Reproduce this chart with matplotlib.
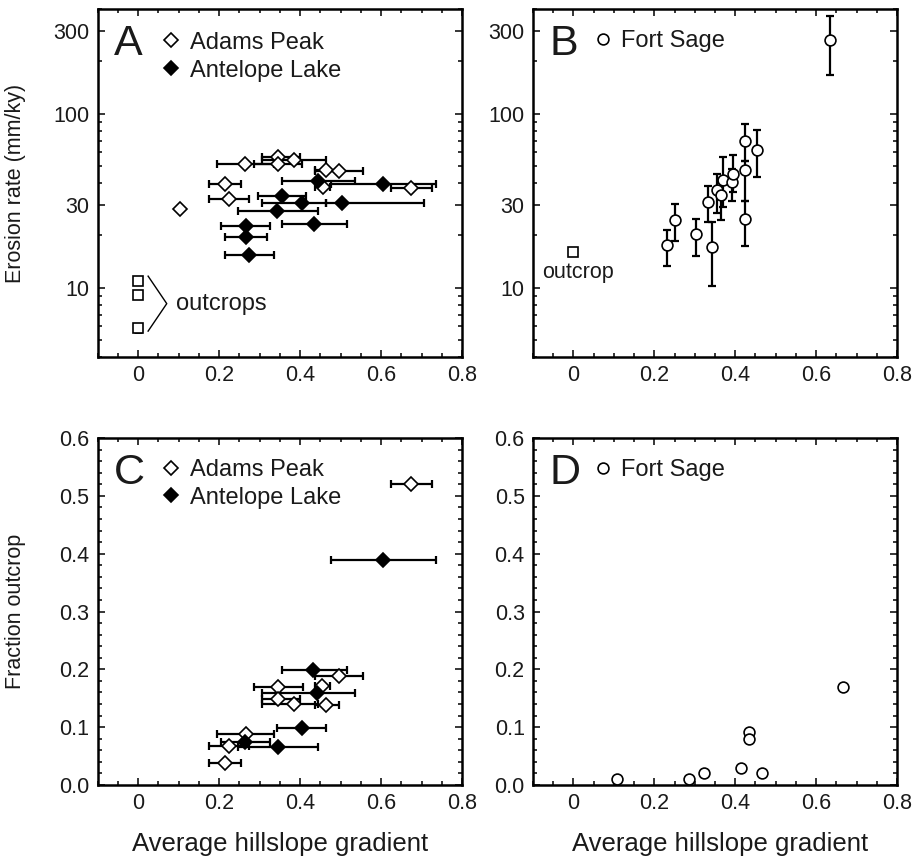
import matplotlib
matplotlib.use("Agg")
import matplotlib.pyplot as plt
import numpy as np
from matplotlib.lines import Line2D
from matplotlib.ticker import MultipleLocator, LogLocator, NullFormatter, FixedLocator

plt.rcParams['font.family'] = ['Liberation Sans', 'DejaVu Sans']

# ---------------- data ----------------
# Panel A: erosion rate vs gradient
adams_grad = [0.264, 0.345, 0.345, 0.385, 0.464, 0.497, 0.215, 0.456, 0.674, 0.225, 0.104]
adams_grad_lo = [0.196, 0.305, 0.287, 0.305, 0.437, 0.437, 0.175, 0.437, 0.624, 0.175, np.nan]
adams_grad_hi = [0.337, 0.400, 0.404, 0.464, 0.497, 0.556, 0.254, 0.475, 0.725, 0.274, np.nan]
adams_erosion = [51.4, 56.1, 51.4, 54.2, 47.5, 46.6, 39.4, 37.7, 37.4, 32.3, 28.2]

antelope_grad = [0.444, 0.606, 0.355, 0.404, 0.504, 0.342, 0.435, 0.266, 0.266, 0.274]
antelope_grad_lo = [0.355, 0.477, 0.296, 0.305, 0.464, 0.246, 0.355, 0.205, 0.215, 0.215]
antelope_grad_hi = [0.536, 0.735, 0.414, 0.464, 0.707, 0.444, 0.516, 0.326, 0.318, 0.337]
antelope_erosion = [41.2, 39.4, 33.8, 30.5, 30.5, 27.5, 23.4, 22.5, 19.5, 15.5]

outcrops_A_grad = [0.0, 0.0, 0.0]
outcrops_A_erosion = [11.0, 9.1, 5.9]
outcrops_A_err = [0.4, 0.0, 0.3]

# Panel B: Fort Sage erosion rate
fort_grad = [0.634, 0.232, 0.252, 0.303, 0.333, 0.342, 0.354, 0.365, 0.371,
             0.393, 0.395, 0.423, 0.423, 0.423, 0.453]
fort_erosion = [266, 17.5, 24.4, 20.3, 31.1, 17.1, 36.3, 34.2, 41.4,
                40.5, 44.8, 69.7, 47.2, 24.7, 62.1]
fort_erosion_hi = [367, 21.6, 30.1, 24.9, 38.2, 23.8, 44.8, 40.0, 56.4,
                   48.0, 57.6, 86.9, 53.5, 31.5, 80.2]
fort_erosion_lo = [166, 13.4, 18.5, 15.3, 23.8, 10.2, 26.9, 24.6, 29.0,
                   31.5, 35.5, 53.5, 31.5, 17.3, 43.3]
outcrop_B_grad = [0.0]
outcrop_B_erosion = [16.0]

# Panel C: fraction outcrop
adamsC_grad = [0.497, 0.345, 0.454, 0.345, 0.386, 0.464, 0.266, 0.225, 0.215, 0.674]
adamsC_lo = [0.437, 0.286, 0.437, 0.305, 0.305, 0.437, 0.194, 0.176, 0.176, 0.624]
adamsC_hi = [0.555, 0.407, 0.475, 0.400, 0.445, 0.497, 0.337, 0.274, 0.254, 0.725]
adamsC_frac = [0.189, 0.170, 0.171, 0.148, 0.140, 0.138, 0.089, 0.067, 0.0375, 0.520]

antelopeC_grad = [0.433, 0.441, 0.404, 0.265, 0.345, 0.606]
antelopeC_lo = [0.355, 0.307, 0.344, 0.204, 0.246, 0.477]
antelopeC_hi = [0.515, 0.536, 0.464, 0.326, 0.444, 0.735]
antelopeC_frac = [0.199, 0.159, 0.098, 0.075, 0.066, 0.389]

# Panel D: Fort Sage fraction outcrop
fortD_grad = [0.108, 0.285, 0.324, 0.414, 0.435, 0.435, 0.466, 0.666]
fortD_frac = [0.010, 0.010, 0.020, 0.030, 0.091, 0.080, 0.020, 0.170]

xticks = [0, 0.2, 0.4, 0.6, 0.8]
xticklabels = ['0', '0.2', '0.4', '0.6', '0.8']
log_ticks = [10, 30, 100, 300]
frac_ticks = [0.0, 0.1, 0.2, 0.3, 0.4, 0.5, 0.6]

# ---------------- style ----------------
TICK_FS = 15.5
LEG_FS = 17
YLAB_FS = 15.5
XLAB_FS = 18.5
LET_FS = 31
MS_D = 7.6
MS_O = 7.8
MEW = 1.2
ELW = 1.6
TXT = '#1a1a1a'

W, H = 913, 863
fig = plt.figure(figsize=(W / 100, H / 100), dpi=100)

def make_ax(l, t, r, b):
    return fig.add_axes([l / W, 1 - b / H, (r - l) / W, (b - t) / H])

axA = make_ax(97.5, 9, 462, 357)
axB = make_ax(533, 9, 897, 357)
axC = make_ax(97.5, 438, 462, 785)
axD = make_ax(533, 438, 897, 785)

for ax in (axA, axB, axC, axD):
    ax.set_xlim(-0.1, 0.8)
    ax.xaxis.set_major_locator(FixedLocator(xticks))
    ax.set_xticklabels(xticklabels)
    ax.xaxis.set_minor_locator(MultipleLocator(0.05))
    ax.tick_params(which='both', direction='in', top=True, right=True,
                   labelsize=TICK_FS, width=1.1, pad=6, labelcolor=TXT)
    ax.tick_params(which='major', length=5)
    ax.tick_params(which='minor', length=3)
    for s in ax.spines.values():
        s.set_linewidth(1.8)

for ax in (axA, axB):
    ax.set_yscale('log')
    ax.set_ylim(4, 400)
    ax.yaxis.set_major_locator(FixedLocator(log_ticks))
    ax.set_yticklabels([str(t) for t in log_ticks])
    ax.yaxis.set_minor_locator(LogLocator(base=10, subs=np.arange(2, 10)))
    ax.yaxis.set_minor_formatter(NullFormatter())

for ax in (axC, axD):
    ax.set_ylim(0, 0.6)
    ax.yaxis.set_major_locator(FixedLocator(frac_ticks))
    ax.set_yticklabels([f'{t:.1f}' for t in frac_ticks])
    ax.yaxis.set_minor_locator(MultipleLocator(0.02))

def xerr_from(x, lo, hi):
    x = np.asarray(x, float)
    lo = np.asarray(lo, float)
    hi = np.asarray(hi, float)
    return np.vstack([x - lo, hi - x])

eb_kw = dict(fmt='none', ecolor='black', elinewidth=ELW, capsize=3.0, capthick=ELW, zorder=2)
open_D = dict(ls='none', marker='D', ms=MS_D, mfc='white', mec='black', mew=MEW, zorder=4)
fill_D = dict(ls='none', marker='D', ms=MS_D, mfc='black', mec='black', mew=MEW, zorder=4)
open_O = dict(ls='none', marker='o', ms=MS_O, mfc='white', mec='black', mew=MEW, zorder=4)
open_S = dict(ls='none', marker='s', ms=6.8, mfc='white', mec='black', mew=MEW, zorder=4)

# ---------------- Panel A ----------------
axA.errorbar(adams_grad, adams_erosion, xerr=xerr_from(adams_grad, adams_grad_lo, adams_grad_hi), **eb_kw)
axA.errorbar(antelope_grad, antelope_erosion, xerr=xerr_from(antelope_grad, antelope_grad_lo, antelope_grad_hi), **eb_kw)
axA.plot(adams_grad, adams_erosion, **open_D)
axA.plot(antelope_grad, antelope_erosion, **fill_D)
axA.errorbar(outcrops_A_grad, outcrops_A_erosion, yerr=outcrops_A_err, fmt='none',
             ecolor='black', elinewidth=1.5, capsize=3.2, capthick=2.0, zorder=3)
axA.plot(outcrops_A_grad, outcrops_A_erosion, **open_S)
# bracket to "outcrops"
top_y = max(outcrops_A_erosion) * 1.06
bot_y = min(outcrops_A_erosion) * 0.955
tip_y = np.sqrt(top_y * bot_y)
bx0 = outcrops_A_grad[0] + 0.025
bx1 = outcrops_A_grad[0] + 0.071
axA.plot([bx0, bx1, bx0], [top_y, tip_y, bot_y], color='black', lw=1.0)
axA.text(bx1 + 0.022, tip_y, 'outcrops', fontsize=LEG_FS, va='center', ha='left', color=TXT)

# ---------------- Panel B ----------------
fe = np.asarray(fort_erosion, float)
yerrB = np.vstack([fe - np.asarray(fort_erosion_lo), np.asarray(fort_erosion_hi) - fe])
axB.errorbar(fort_grad, fort_erosion, yerr=yerrB, fmt='none', ecolor='black',
             elinewidth=ELW, capsize=3.0, capthick=ELW, zorder=2)
axB.plot(fort_grad, fort_erosion, **open_O)
axB.plot(outcrop_B_grad, outcrop_B_erosion, **open_S)
axB.annotate('outcrop', (outcrop_B_grad[0], outcrop_B_erosion[0]), xytext=(3, -7),
             textcoords='offset points', ha='center', va='top', fontsize=LEG_FS - 1.5, color=TXT)

# ---------------- Panel C ----------------
axC.errorbar(adamsC_grad, adamsC_frac, xerr=xerr_from(adamsC_grad, adamsC_lo, adamsC_hi), **eb_kw)
axC.errorbar(antelopeC_grad, antelopeC_frac, xerr=xerr_from(antelopeC_grad, antelopeC_lo, antelopeC_hi), **eb_kw)
axC.plot(adamsC_grad, adamsC_frac, **open_D)
axC.plot(antelopeC_grad, antelopeC_frac, **fill_D)

# ---------------- Panel D ----------------
axD.plot(fortD_grad, fortD_frac, clip_on=False, **open_O)

# ---------------- letters & legends ----------------
for ax, letter in ((axA, 'A'), (axB, 'B'), (axC, 'C'), (axD, 'D')):
    ax.text(0.045, 0.868, letter, transform=ax.transAxes, fontsize=LET_FS,
            ha='left', va='baseline', color=TXT)

h_adams = Line2D([], [], **{k: v for k, v in open_D.items() if k != 'zorder'})
h_ante = Line2D([], [], **{k: v for k, v in fill_D.items() if k != 'zorder'})
h_fort = Line2D([], [], **{k: v for k, v in open_O.items() if k != 'zorder'})

leg_kw = dict(loc='upper left', frameon=False, fontsize=LEG_FS, borderpad=0,
              handlelength=0.8, handletextpad=0.4, labelspacing=0.25, borderaxespad=0,
              labelcolor=TXT)
axA.legend(handles=[h_adams, h_ante], labels=['Adams Peak', 'Antelope Lake'],
           bbox_to_anchor=(0.175, 0.935), **leg_kw)
axC.legend(handles=[h_adams, h_ante], labels=['Adams Peak', 'Antelope Lake'],
           bbox_to_anchor=(0.175, 0.94), **leg_kw)
axB.legend(handles=[h_fort], labels=['Fort Sage'], bbox_to_anchor=(0.165, 0.94), **leg_kw)
axD.legend(handles=[h_fort], labels=['Fort Sage'], bbox_to_anchor=(0.165, 0.94), **leg_kw)

# ---------------- axis labels ----------------
axA.set_ylabel('Erosion rate (mm/ky)', fontsize=YLAB_FS, color=TXT)
axA.yaxis.set_label_coords(-0.195, 0.5)
axC.set_ylabel('Fraction outcrop', fontsize=YLAB_FS, color=TXT)
axC.yaxis.set_label_coords(-0.195, 0.5)
axC.set_xlabel('Average hillslope gradient', fontsize=XLAB_FS, color=TXT)
axC.xaxis.set_label_coords(0.5, -0.135)
axD.set_xlabel('Average hillslope gradient', fontsize=XLAB_FS, color=TXT)
axD.xaxis.set_label_coords(0.515, -0.135)

fig.savefig('out.png', dpi=100)
